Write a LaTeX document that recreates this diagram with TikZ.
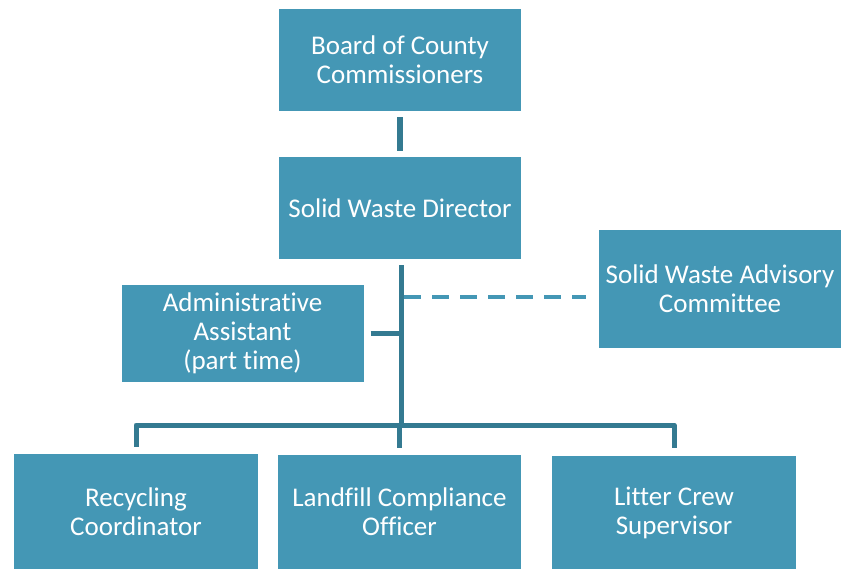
\documentclass[tikz,border=0pt]{standalone}
\usepackage{fontspec}
\setmainfont{Carlito}[Ligatures=NoCommon]
\definecolor{boxblue}{RGB}{68,151,181}
\definecolor{lineblue}{RGB}{52,122,145}

\begin{document}
\begin{tikzpicture}[x=1pt,y=-1pt,
	post/.style={fill=boxblue,text=white,align=center,inner sep=0pt,
		minimum width=242pt,font=\fontsize{27}{29}\selectfont},
	conn/.style={draw=lineblue,line width=5pt},
	advice/.style={draw=boxblue,line width=4pt,dash pattern=on 17pt off 11pt}]
				\useasboundingbox (0,0) rectangle (841,569);
				
				\node[post,minimum height=102pt] (board) at (400,60) {Board of County\\Commissioners};
				\node[post,minimum height=102pt] (director) at (400,208) {Solid Waste Director};
				\node[post,minimum height=97pt] (admin) at (242.5,333.5) {Administrative\\Assistant\\(part time)};
				\node[post,minimum height=118pt] (advisory) at (720,289) {Solid Waste Advisory\\Committee};
				
				\node[post,minimum width=244pt,minimum height=115pt] (recycling) at (136,511.5) {Recycling\\Coordinator};
				\node[post,minimum width=243pt,minimum height=114pt] (landfill) at (399.5,512) {Landfill Compliance\\Officer};
				\node[post,minimum width=244pt,minimum height=115pt] (litter) at (674,513) {Litter Crew\\Supervisor};
				
				\coordinate (trunk) at (401,425);
				
				\draw[conn,line width=6pt,shorten <=6pt,shorten >=6pt] (board) -- (director);
				\draw[conn,shorten <=6pt] (director.south -| trunk) -- (trunk);
				\draw[conn,shorten <=7pt] (admin.east) -- (admin.east -| trunk);
				\draw[advice,shorten >=13pt] (404,297) coordinate (dash) -- (dash -| advisory.west);
				
				\draw[conn,line join=round,shorten <=7pt,shorten >=7pt] (recycling.north) |- (trunk) -| (litter.north);
				\draw[conn,shorten >=7pt] (trunk -| landfill.north) -- (landfill.north);
\end{tikzpicture}
\end{document}
